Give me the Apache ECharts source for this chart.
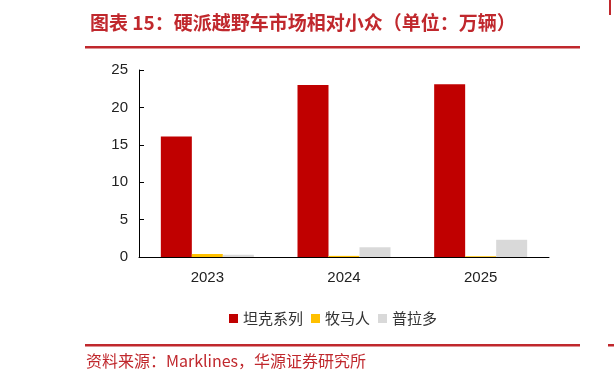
<!DOCTYPE html>
<html lang="zh">
<head>
<meta charset="utf-8">
<title>硬派越野车市场</title>
<script src="https://cdn.jsdelivr.net/npm/echarts@6/dist/echarts.min.js"></script>
<style>
  html, body { margin: 0; padding: 0; background: #fff; }
  #main { width: 614px; height: 383px; }
</style>
</head>
<body>
<div id="main"></div>
<script type="text/javascript">
    // 数据（单位：万辆）
    var years = ['2023', '2024', '2025'];
    var tank = [16.1, 23.0, 23.1];
    var muma = [0.4, 0.15, 0.1];
    var pula = [0.3, 1.3, 2.3];
    var yTicks = [0, 5, 10, 15, 20, 25];

    var red = '#c00000';
    var textRed = '#c0282d';
    var chart = echarts.init(document.getElementById('main'));

    chart.setOption({
        animation: false,
        title: {
            text: '图表 15：硬派越野车市场相对小众（单位：万辆）',
            left: 85,
            top: 8,
            textStyle: { color: textRed, fontSize: 19, fontWeight: 'bold', fontFamily: 'Noto Sans CJK SC' }
        },
        legend: {
            top: 306,
            left: 224,
            itemWidth: 9,
            itemHeight: 9,
            itemGap: 8,
            icon: 'rect',
            textStyle: { fontSize: 15, color: '#333', fontFamily: 'Noto Sans CJK SC' },
            data: ['坦克系列', '牧马人', '普拉多']
        },
        grid: { left: 139, right: 65, top: 70, bottom: 126 },
        xAxis: {
            type: 'category',
            data: years,
            axisLine: { lineStyle: { color: '#000', width: 1 } },
            axisTick: { inside: true, length: 5, lineStyle: { color: '#000' } },
            axisLabel: { fontSize: 15, color: '#222', margin: 13, fontFamily: 'Liberation Sans' }
        },
        yAxis: {
            type: 'value',
            min: yTicks[0],
            max: yTicks[yTicks.length - 1],
            interval: 5,
            splitLine: { show: false },
            axisLine: { show: true, lineStyle: { color: '#000', width: 1 } },
            axisTick: { show: true, inside: true, length: 5, lineStyle: { color: '#000' } },
            axisLabel: { fontSize: 15, color: '#222', margin: 11, fontFamily: 'Liberation Sans' }
        },
        series: [
            { name: '坦克系列', type: 'bar', data: tank, barWidth: 31, barGap: '0%', itemStyle: { color: red } },
            { name: '牧马人', type: 'bar', data: muma, barWidth: 31, barGap: '0%', itemStyle: { color: '#ffc000' } },
            { name: '普拉多', type: 'bar', data: pula, barWidth: 31, barGap: '0%', itemStyle: { color: '#d9d9d9' } }
        ],
        graphic: [
            { type: 'rect', shape: { x: 85, y: 46, width: 495, height: 2.5 }, style: { fill: textRed } },
            { type: 'rect', shape: { x: 85, y: 344, width: 495, height: 2.5 }, style: { fill: textRed } },
            { type: 'rect', shape: { x: 609, y: 0, width: 2, height: 15 }, style: { fill: textRed } },
            { type: 'rect', shape: { x: 608, y: 344, width: 6, height: 2.5 }, style: { fill: textRed } },
            {
                type: 'text', left: 86, top: 353,
                style: { text: '资料来源：Marklines，华源证券研究所', fill: textRed, fontSize: 16, fontFamily: 'Noto Sans CJK SC' }
            }
        ]
    });
</script>
</body>
</html>
